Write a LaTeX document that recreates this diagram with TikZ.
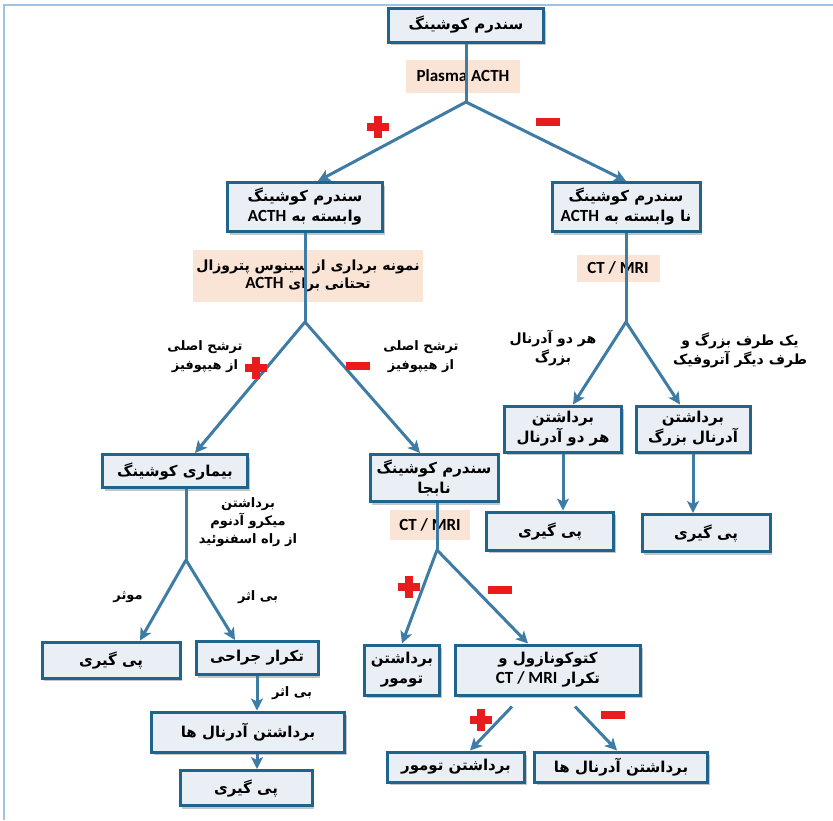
\documentclass[tikz,border=0pt]{standalone}
\usepackage{fontspec}
\usepackage{tikz}
\usetikzlibrary{arrows.meta,shadows}
\setmainfont{Carlito}
\newfontfamily\farsi[Script=Arabic]{DejaVu Sans}
\TeXXeTstate=1
\newcommand{\fa}[1]{{\farsi\bfseries\beginR #1\endR}}
\newcommand{\la}[1]{\beginL{\rmfamily\bfseries\fontsize{17}{20}\selectfont #1}\endL{}}
\definecolor{boxline}{RGB}{31,100,140}
\definecolor{boxfill}{RGB}{233,239,245}
\definecolor{linkcol}{RGB}{62,124,166}
\definecolor{peach}{RGB}{250,228,213}
\definecolor{signred}{RGB}{232,28,28}
\definecolor{framecol}{RGB}{157,195,230}

\begin{document}
\begin{tikzpicture}[x=1pt, y=-1pt,
		box/.style={draw=boxline, line width=3pt, fill=boxfill, align=center, inner sep=2pt,
			font=\fontsize{15}{20}\selectfont,
			drop shadow={shadow xshift=2pt, shadow yshift=-3pt, fill=black!45, opacity=0.5}},
		tag/.style={fill=peach, align=center, font=\fontsize{14}{18}\selectfont},
		note/.style={align=center, font=\fontsize{13}{19}\selectfont},
		link/.style={draw=linkcol, line width=3pt},
		arr/.style={link, -{Stealth[length=12pt, width=12pt, inset=3pt]}},
		possign/.pic={\fill[signred] (-11,-4) rectangle (11,4); \fill[signred] (-4,-11) rectangle (4,11);},
		negsign/.pic={\fill[signred] (-12,-4) rectangle (12,4);}]
			\useasboundingbox (0,0) rectangle (833,820);
			\draw[framecol, line width=2.5pt] (4,820) -- (4,5) -- (833,5);
			
			\node[box, minimum width=155, minimum height=34] (top) at (466,25) {\fa{سندرم کوشینگ}};
			\node[tag, minimum width=114, minimum height=33] (plasma) at (463,76) {\la{Plasma ACTH}};
			\node[box, minimum width=155, minimum height=49] (acth) at (305,207) {\fa{سندرم کوشینگ}\\\fa{وابسته به \la{ACTH}}};
			\node[box, minimum width=148, minimum height=49] (indep) at (626,207) {\fa{سندرم کوشینگ}\\\fa{نا وابسته به \la{ACTH}}};
			\node[tag, minimum width=225, minimum height=52] (ipss) at (308,276) {\fa{نمونه برداری از سینوس پتروزال}\\\fa{تحتانی برای \la{ACTH}}};
			\node[tag, minimum width=83, minimum height=27] (ct1) at (618,268) {\la{CT / MRI}};
			\node[box, minimum width=145, minimum height=33] (cushd) at (175,471) {\fa{بیماری کوشینگ}};
			\node[box, minimum width=128, minimum height=47] (ectopic) at (434,478) {\fa{سندرم کوشینگ}\\\fa{نابجا}};
			\node[tag, minimum width=80, minimum height=30] (ct2) at (430,525) {\la{CT / MRI}};
			\node[box, minimum width=117, minimum height=46] (bothadr) at (563,429) {\fa{برداشتن}\\\fa{هر دو آدرنال}};
			\node[box, minimum width=114, minimum height=46] (bigadr) at (693,429) {\fa{برداشتن}\\\fa{آدرنال بزرگ}};
			\node[box, minimum width=127, minimum height=38] (fu1) at (550,531) {\fa{پی گیری}};
			\node[box, minimum width=128, minimum height=37] (fu2) at (706,533) {\fa{پی گیری}};
			\node[box, minimum width=138, minimum height=36] (fu3) at (111,660) {\fa{پی گیری}};
			\node[box, minimum width=122, minimum height=33] (resurg) at (257,658) {\fa{تکرار جراحی}};
			\node[box, minimum width=193, minimum height=40] (adrex1) at (248,732) {\fa{برداشتن آدرنال ها}};
			\node[box, minimum width=132, minimum height=35] (fu4) at (246,788) {\fa{پی گیری}};
			\node[box, minimum width=75, minimum height=50] (tumex1) at (402,670) {\fa{برداشتن}\\\fa{تومور}};
			\node[box, minimum width=185, minimum height=50] (keto) at (548,670) {\fa{کتوکونازول و}\\\fa{تکرار \la{CT / MRI}}};
			\node[box, minimum width=137, minimum height=30] (tumex2) at (456,767) {\fa{برداشتن تومور}};
			\node[box, minimum width=173, minimum height=30] (adrex2) at (621,767) {\fa{برداشتن آدرنال ها}};
			
			\coordinate (b1) at (466,102);
			\coordinate (b2) at (305,322);
			\coordinate (b3) at (626,322);
			\coordinate (b4) at (186,560);
			\coordinate (b5) at (437,550);
			
			\draw[link] (top) -- (b1);
			\draw[arr] (b1) -- ([xshift=13pt]acth.north);
			\draw[arr] (b1) -- (indep.north);
			\draw[link] (acth) -- (b2);
			\draw[arr] (b2) -- ([xshift=20pt]cushd.north);
			\draw[arr] (b2) -- ([xshift=-14pt]ectopic.north);
			\draw[link] (indep) -- (b3);
			\draw[arr] (b3) -- ([xshift=10pt]bothadr.north);
			\draw[arr] (b3) -- ([xshift=-13pt]bigadr.north);
			\draw[arr] (bothadr.south) -- (bothadr.south |- fu1.north);
			\draw[arr] (bigadr.south) -- (bigadr.south |- fu2.north);
			\draw[link] (b4 |- cushd.south) -- (b4);
			\draw[arr] (b4) -- ([xshift=29pt]fu3.north);
			\draw[arr] (b4) -- ([xshift=-22pt]resurg.north);
			\draw[arr] (resurg.south) -- (resurg.south |- adrex1.north);
			\draw[arr] (resurg.south |- adrex1.south) -- (resurg.south |- fu4.north);
			\draw[link] (b5 |- ectopic.south) -- (b5);
			\draw[arr] (b5) -- (tumex1.north);
			\draw[arr] (b5) -- ([xshift=-20pt]keto.north);
			\draw[arr] ([xshift=-36pt, yshift=-10pt]keto.south) -- ([xshift=14pt]tumex2.north);
			\draw[arr] ([xshift=27pt, yshift=-10pt]keto.south) -- ([xshift=-4pt]adrex2.north);
			
			\pic at (378,127) {possign};
			\pic at (548,122) {negsign};
			\pic at (256,368) {possign};
			\pic at (358,366) {negsign};
			\pic at (409,587) {possign};
			\pic at (500,590) {negsign};
			\pic at (481,720) {possign};
			\pic at (613,715) {negsign};
			
			\node[note] (lbl1) at (205,357) {\fa{ترشح اصلی}\\\fa{از هیپوفیز}};
			\node[note] (lbl2) at (421,357) {\fa{ترشح اصلی}\\\fa{از هیپوفیز}};
			\node[note, font=\fontsize{14}{19}\selectfont] (lbl3) at (553,348) {\fa{هر دو آدرنال}\\\fa{بزرگ}};
			\node[note, font=\fontsize{14}{19}\selectfont] (lbl4) at (740,350) {\fa{یک طرف بزرگ و}\\\fa{طرف دیگر آتروفیک}};
			\node[note, font=\fontsize{13}{18}\selectfont] (lbl5) at (248,522) {\fa{برداشتن}\\\fa{میکرو آدنوم}\\\fa{از راه اسفنوئید}};
			\node[note] (lbl6) at (128,597) {\fa{موثر}};
			\node[note] (lbl7) at (258,597) {\fa{بی اثر}};
			\node[note] (lbl8) at (292,693) {\fa{بی اثر}};
		\end{tikzpicture}
\end{document}
